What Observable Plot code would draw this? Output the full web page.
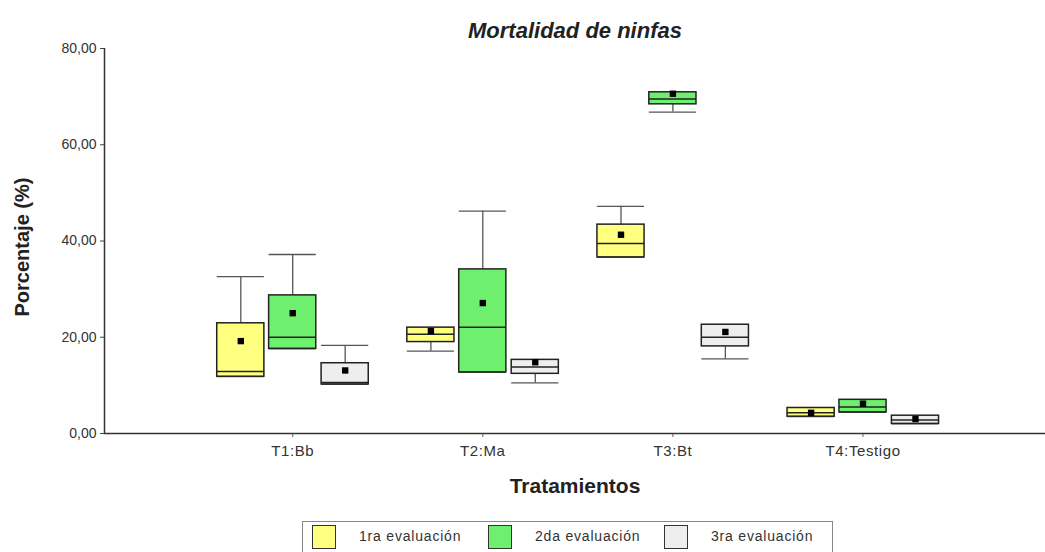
<!DOCTYPE html>
<html><head><meta charset="utf-8">
<script src="https://cdn.jsdelivr.net/npm/d3@7"></script>
<script src="https://cdn.jsdelivr.net/npm/@observablehq/plot@0.6"></script>
<style>
body{margin:0;background:#fff;font-family:"Liberation Sans",Arial,sans-serif;}
#wrap{position:relative;width:1045px;height:552px;overflow:hidden;}
#legend{position:absolute;left:302px;top:521px;width:531px;height:40px;border:1px solid #888;box-sizing:border-box;}
.sw{position:absolute;top:3px;width:24px;height:24px;border:1px solid #333;box-sizing:border-box;}
.lb{position:absolute;top:6px;font-size:14px;letter-spacing:0.8px;color:#333;white-space:nowrap;}
</style></head><body><div id="wrap"></div>
<script>
const treatments = ["T1:Bb", "T2:Ma", "T3:Bt", "T4:Testigo"];
const evaluations = ["1ra evaluación", "2da evaluación", "3ra evaluación"];
const colors = ["#ffff80", "#6ef06e", "#eeeeee"];
const yTicks = [0, 20, 40, 60, 80];

// one row per evaluation, values per treatment
const minVals  = [[11.8, 17.1, 36.6, 3.5], [17.6, 12.7, 66.8, 4.4], [10.2, 10.5, 15.5, 2.0]];
const q1Vals   = [[11.8, 19.0, 36.6, 3.5], [17.6, 12.7, 68.4, 4.4], [10.2, 12.4, 18.1, 2.0]];
const medVals  = [[12.9, 20.6, 39.5, 4.3], [20.0, 22.1, 69.5, 5.5], [10.6, 13.8, 20.0, 2.8]];
const q3Vals   = [[22.9, 22.0, 43.4, 5.3], [28.7, 34.1, 70.9, 7.0], [14.6, 15.3, 22.6, 3.7]];
const maxVals  = [[32.6, 22.0, 47.2, 5.3], [37.2, 46.2, 70.9, 7.0], [18.3, 15.3, 22.6, 3.7]];
const meanVals = [[19.2, 21.3, 41.3, 4.3], [25.0, 27.1, 70.6, 6.2], [13.1, 14.8, 21.1, 3.0]];

const offsets = [-0.273, 0, 0.276];
const hw = 0.124;

const rows = evaluations.flatMap((e, j) => treatments.map((t, i) => {
  const p = i + 1 + offsets[j];
  return {t, e, fill: colors[j], p, x1: p - hw, x2: p + hw,
    min: minVals[j][i], q1: q1Vals[j][i], med: medVals[j][i],
    q3: q3Vals[j][i], max: maxVals[j][i], mean: meanVals[j][i]};
}));

const fmt = d => d.toFixed(2).replace(".", ",");

const chart = Plot.plot({
  width: 1045, height: 552,
  marginTop: 48, marginBottom: 119, marginLeft: 104, marginRight: 0,
  style: {fontFamily: "Liberation Sans, Arial, sans-serif", background: "#fff", color: "#333"},
  x: {type: "linear", domain: [0.01, 4.96], axis: null},
  y: {domain: [0, 80], axis: null},
  marks: [
    Plot.axisY(yTicks, {tickFormat: fmt, tickSize: 4, tickPadding: 4, fontSize: 14, stroke: "#444", fill: "#333", label: null}),
    Plot.axisX([1, 2, 3, 4], {tickFormat: i => treatments[i - 1], tickSize: 4, tickPadding: 8, fontSize: 15, stroke: "#666", fill: "#333", label: null}),
    Plot.ruleX([0.01], {y1: 0, y2: 80, stroke: "#333", strokeWidth: 1.5}),
    Plot.ruleY([0], {stroke: "#333", strokeWidth: 1.5}),
    // whiskers
    Plot.ruleX(rows, {x: "p", y1: "q3", y2: "max", stroke: "#555", strokeWidth: 1.3}),
    Plot.ruleX(rows, {x: "p", y1: "min", y2: "q1", stroke: "#555", strokeWidth: 1.3}),
    Plot.ruleY(rows, {y: "max", x1: "x1", x2: "x2", stroke: "#555", strokeWidth: 1.3}),
    Plot.ruleY(rows, {y: "min", x1: "x1", x2: "x2", stroke: "#555", strokeWidth: 1.3}),
    // boxes
    Plot.rect(rows, {x1: "x1", x2: "x2", y1: "q1", y2: "q3", fill: "fill", stroke: "#222", strokeWidth: 1.5}),
    Plot.ruleY(rows, {y: "med", x1: "x1", x2: "x2", stroke: "#222", strokeWidth: 1.5}),
    Plot.dot(rows, {x: "p", y: "mean", symbol: "square", r: 3.6, fill: "#000", stroke: "none"}),
    // titles
    Plot.text(["Mortalidad de ninfas"], {frameAnchor: "top", lineAnchor: "middle", dy: -18, fontSize: 22, fontWeight: "bold", fontStyle: "italic", fill: "#222", ariaLabel: "title"}),
    Plot.text(["Tratamientos"], {frameAnchor: "bottom", lineAnchor: "middle", dy: 53, fontSize: 21, fontWeight: "bold", fill: "#222", ariaLabel: "xlabel"}),
    Plot.text(["Porcentaje (%)"], {frameAnchor: "left", textAnchor: "middle", dx: -82, dy: 6, rotate: -90, fontSize: 20, fontWeight: "bold", fill: "#222", ariaLabel: "ylabel"})
  ]
});

const spacing = {title: "0.4px", xlabel: "0.8px", ylabel: "0.4px"};
for (const [k, v] of Object.entries(spacing)) {
  chart.querySelectorAll(`g[aria-label="${k}"] text`).forEach(n => n.style.letterSpacing = v);
}
chart.querySelectorAll(`g[aria-label="x-axis tick label"] text`).forEach(n => n.style.letterSpacing = "0.6px");

const wrap = document.getElementById("wrap");
wrap.appendChild(chart);
const legend = document.createElement("div");
legend.id = "legend";
evaluations.forEach((e, j) => {
  const sw = document.createElement("div");
  sw.className = "sw";
  sw.style.left = (9 + j * 176) + "px";
  sw.style.background = colors[j];
  legend.appendChild(sw);
  const lb = document.createElement("div");
  lb.className = "lb";
  lb.style.left = (56 + j * 176) + "px";
  lb.textContent = e;
  legend.appendChild(lb);
});
wrap.appendChild(legend);
</script></body></html>
